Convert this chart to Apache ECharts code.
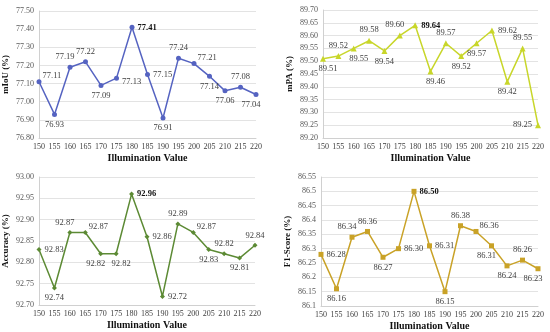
<!DOCTYPE html>
<html>
<head>
<meta charset="utf-8">
<script src="https://cdn.jsdelivr.net/npm/echarts@6/dist/echarts.min.js"></script>
<style>html,body{margin:0;padding:0;background:#fff}#c{width:550px;height:332px}</style>
</head>
<body>
<div id="c"></div>
<script>
const categories = ['150','155','160','165','170','175','180','185','190','195','200','205','210','215','220'];
const mIoU = [77.11, 76.93, 77.19, 77.22, 77.09, 77.13, 77.41, 77.15, 76.91, 77.24, 77.21, 77.14, 77.06, 77.08, 77.04];
const mPA = [89.51, 89.52, 89.55, 89.58, 89.54, 89.60, 89.64, 89.46, 89.57, 89.52, 89.57, 89.62, 89.42, 89.55, 89.25];
const accuracy = [92.83, 92.74, 92.87, 92.87, 92.82, 92.82, 92.96, 92.86, 92.72, 92.89, 92.87, 92.83, 92.82, 92.81, 92.84];
const f1 = [86.28, 86.16, 86.34, 86.36, 86.27, 86.30, 86.50, 86.31, 86.15, 86.38, 86.36, 86.31, 86.24, 86.26, 86.23];

// label placement (style only)
const pos1 = ['rt','b','tl','t','b','rb','r','r','b','t','rt','b','b','t','bl'];
const pos2 = ['br','t','br','t','b','tl','r','br','t','b','b','r','b','t','l'];
const pos3 = ['r','b','tl','rt','bl','br','r','r','r','t','rt','b','t','b','t'];
const pos4 = ['r','b','tl','t','b','r','r','r','b','t','rt','bl','b','t','bl'];

const FONT = '"Liberation Serif", "Times New Roman", serif';
const maxIdx = 6;

function labelCfg(p, bold) {
  const map = {
    r: {position: 'right', offset: [0, 0]},
    rt: {position: 'right', offset: [-2, -6]},
    rb: {position: 'right', offset: [0, 4]},
    l: {position: 'left', offset: [0, 0]},
    t: {position: 'top', offset: [0, 0]},
    tl: {position: 'top', offset: [-5, 0]},
    b: {position: 'bottom', offset: [0, 0]},
    br: {position: 'bottom', offset: [5, 0]},
    bl: {position: 'bottom', offset: [-5, 0]}
  };
  const m = map[p];
  return {show: true, position: m.position, offset: m.offset, distance: 3,
    fontFamily: FONT, fontSize: 8.5, color: bold ? '#111' : '#404040', fontWeight: bold ? 'bold' : 'normal',
    formatter: (d) => d.value.toFixed(2)};
}

function build(values, positions) {
  return values.map((v, i) => ({value: v, label: labelCfg(positions[i], i === maxIdx)}));
}

const grids = [
  {left: 39, right: 294, top: 11, bottom: 194},
  {left: 323, right: 12, top: 10, bottom: 194},
  {left: 39, right: 295, top: 177, bottom: 27},
  {left: 321, right: 12, top: 177, bottom: 26}
];
const yCfg = [
  {min: 76.8, max: 77.5, interval: 0.1, name: 'mIoU (%)', fmt: v => v.toFixed(2), gap: 29},
  {min: 89.2, max: 89.7, interval: 0.05, name: 'mPA (%)', fmt: v => v.toFixed(2), gap: 29},
  {min: 92.7, max: 93.0, interval: 0.05, name: 'Accuracy (%)', fmt: v => v.toFixed(2), gap: 29},
  {min: 86.1, max: 86.55, interval: 0.05, name: 'F1-Score (%)', fmt: v => String(parseFloat(v.toFixed(2))), gap: 29}
];
const colors = ['#5563c1', '#c8d62a', '#5c8a34', '#c9a227'];
const symbols = ['circle', 'triangle', 'diamond', 'rect'];
const seriesData = [build(mIoU, pos1), build(mPA, pos2), build(accuracy, pos3), build(f1, pos4)];

const option = {
  animation: false,
  backgroundColor: '#fff',
  grid: grids,
  xAxis: grids.map((g, i) => ({
    type: 'category', gridIndex: i, data: categories, boundaryGap: false,
    name: 'Illumination Value', nameLocation: 'middle', nameGap: 15,
    nameTextStyle: {fontFamily: FONT, fontWeight: 'bold', fontSize: 10, color: '#111'},
    axisLine: {lineStyle: {color: '#d0d0d0'}},
    axisTick: {show: false},
    axisLabel: {fontFamily: FONT, fontSize: 8, color: '#404040', margin: 5, interval: 0},
    splitLine: {show: false}
  })),
  yAxis: yCfg.map((c, i) => ({
    type: 'value', gridIndex: i, min: c.min, max: c.max, interval: c.interval,
    name: c.name, nameLocation: 'middle', nameGap: c.gap, nameRotate: 90,
    nameTextStyle: {fontFamily: FONT, fontWeight: 'bold', fontSize: 9, color: '#111'},
    axisLine: {show: true, lineStyle: {color: '#d0d0d0'}},
    axisTick: {show: false},
    axisLabel: {fontFamily: FONT, fontSize: 8, color: '#595959', margin: 5, formatter: c.fmt},
    splitLine: {lineStyle: {color: '#e3e3e3'}}
  })),
  series: seriesData.map((d, i) => ({
    type: 'line', xAxisIndex: i, yAxisIndex: i, data: d,
    symbol: symbols[i], symbolSize: i === 1 ? 6 : 5,
    lineStyle: {color: colors[i], width: 1.5},
    itemStyle: {color: colors[i]}
  }))
};
echarts.init(document.getElementById('c'), null, {renderer: 'canvas'}).setOption(option);
</script>
</body>
</html>
